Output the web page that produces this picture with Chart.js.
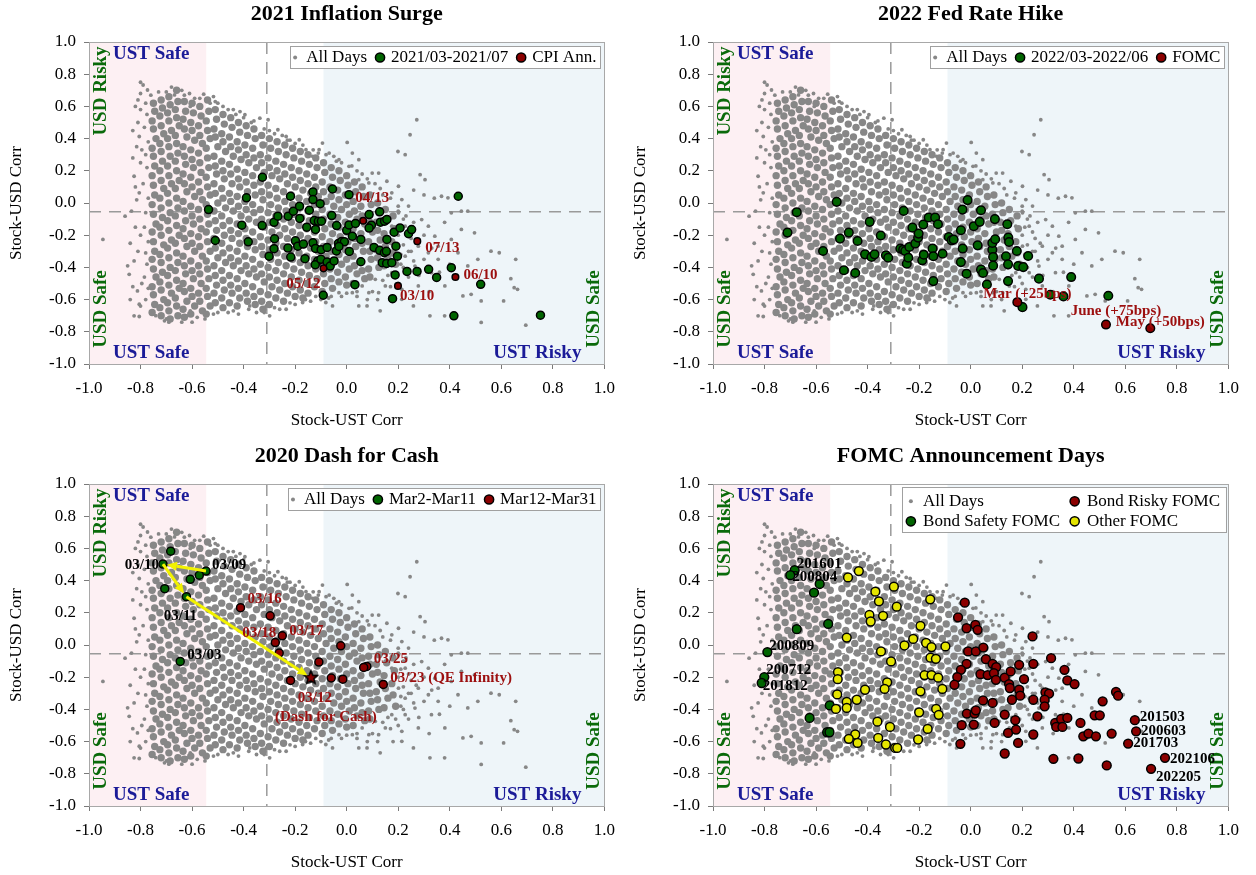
<!DOCTYPE html>
<html><head><meta charset="utf-8">
<script src="https://cdn.jsdelivr.net/npm/chart.js@4.4.1/dist/chart.umd.min.js"></script>
<style>
html,body{margin:0;padding:0;background:#fff;overflow:hidden;}
#wrap{position:relative;width:1256px;height:875px;}
.panel{position:absolute;width:624px;height:436px;}
</style></head><body>
<div id="wrap">
<div class="panel" style="left:0;top:0"><canvas id="c1" width="624" height="436"></canvas></div>
<div class="panel" style="left:624px;top:0"><canvas id="c2" width="624" height="436"></canvas></div>
<div class="panel" style="left:0;top:442px"><canvas id="c3" width="624" height="436"></canvas></div>
<div class="panel" style="left:624px;top:442px"><canvas id="c4" width="624" height="436"></canvas></div>
</div>
<script>
// ---------------- DATA ----------------
const axisTicks = [-1.0,-0.8,-0.6,-0.4,-0.2,0.0,0.2,0.4,0.6,0.8,1.0];
const dashX = -0.31, dashY = -0.055, pinkEdge = -0.545, blueEdge = -0.09;

// All days (stock-UST corr, stock-USD corr), read approximately from the cloud: scattered fringe days
const allDaysFringe = [
[-.8,.75],[-.79,.733],[-.773,.702],[-.805,.413],[-.825,.166],[-.805,.063],[-.86,-.082],[-.946,-.226],[-.85,-.39],[-.844,-.443],[-.812,-.546],[-.805,-.629],[-.825,-.701],[-.805,-.705],[-.741,-.7],[-.707,-.732],[-.668,.671],[-.555,.676],[-.517,.661],[-.51,.63],[-.607,.6],[-.414,.568],[-.395,.548],[-.337,.527],[-.305,.517],[-.267,.455],[-.235,.413],[-.184,.393],[-.094,.372],[.002,.376],[.022,.31],[.047,.269],[.124,.186],[.156,.135],[.201,.104],[.199,.32],[.227,.3],[.246,.424],[.272,.517],[.285,.176],[.304,.145],[.368,.042],[.393,.032],[.406,-.061],[.445,-.051],[.47,-.051],[.445,-.164],[.496,-.185],[.56,-.299],[.592,-.309],[.656,-.35],[.509,-.35],[.47,-.391],[.637,-.47],[.65,-.526],[.663,-.536],[.483,-.567],[.451,-.577],[.522,-.608],[.609,-.608],[.522,-.742],[.695,-.759],[.323,-.701],[.38,-.701],[.259,-.639],[.214,-.598],[.13,-.67],[.047,-.639],[.079,-.639],[-.081,-.618],[-.055,-.639],[-.171,-.618],[-.235,-.66],[-.312,-.639],[-.299,-.701],[-.376,-.639],[-.517,-.69],[-.607,-.67],[-.62,-.701],
[.291,-.103],[.317,-.144],[.342,-.206],[.278,-.268],[.317,-.309],[.355,-.268],[.265,-.392],[.329,-.433],[.381,-.515],[.278,-.515],[.227,-.433],[.406,-.226],[.432,-.309],[.355,-.35],
[.175,.063],[.214,.021],[.24,-.019],[.201,-.061],[.227,-.144],[.175,-.144],[.201,-.268],[.227,-.33],[.175,-.433],[.15,-.515],[.214,-.536],[.124,-.557],[.111,-.474],[.06,-.515],[.086,-.557],[.022,-.557],[-.03,-.557],[-.004,-.515],
[.047,.145],[.086,.125],[.099,.186],[.009,.228],[-.03,.269],[-.068,.31],[-.107,.331],[-.132,.29],[-.158,.331],
[-.78,.62],[-.775,.55],[-.785,.47],[-.77,.38],[-.78,.3],[-.775,.22],[-.79,.12],[-.77,.03],[-.78,-.06],[-.785,-.15],[-.77,-.24],[-.78,-.31],[-.775,-.38],[-.785,-.46],[-.77,-.53],[-.78,-.6],
[-.8,.58],[-.81,.5],[-.795,.33],[-.8,.25],[-.815,.02],[-.8,-.2],[-.81,-.3],[-.795,-.5],[-.8,-.64],[-.69,-.74],[-.6,-.74],[-.55,-.72],[-.46,-.68],[-.42,-.69],[-.35,-.68],[-.26,-.66],[-.2,-.63],[-.14,-.61],[-.1,-.6],
[-.7,.69],[-.63,.67],[-.59,.65],[-.5,.62],[-.46,.58],[-.43,.55],[-.37,.5],[-.32,.46],[-.28,.43],[-.22,.39],[-.2,.37],[-.13,.33],[-.08,.3],[-.04,.26],[.02,.23],[.06,.18],[.11,.12],[.14,.05],[.2,-.02],[.22,-.1],[.25,-.22],[.24,-.3],[.21,-.38],[.19,-.46],[.16,-.45],[.1,-.55],[.04,-.58],[-.02,-.58],[-.07,-.59],
[-.82,.6],[-.83,.45],[-.815,.35],[-.83,.28],[-.82,.1],[-.835,-.05],[-.82,-.15],[-.84,-.25],[-.825,-.36],[-.83,-.52],[-.84,-.6],[-.8,.68],[-.81,.64],
[-.76,.67],[-.73,.69],[-.68,.72],[-.64,.7],[-.61,.68],[-.57,.65],[-.53,.62],[-.48,.6],[-.44,.58],[-.4,.53],[-.36,.51],[-.3,.45],[-.25,.42],[-.23,.39],[-.17,.36],[-.11,.31],[-.05,.29],[-.02,.25],[.04,.2],[.08,.15],[.13,.09],[.17,.03],
[.2,-.05],[.23,-.08],[.26,-.12],[.21,-.15],[.24,-.18],[.2,-.2],[.27,-.25],[.22,-.26],[.25,-.3],[.21,-.32],[.26,-.36],[.22,-.4],[.24,-.46],[.2,-.5],[.17,-.52],[.14,-.48],[.3,-.2],[.33,-.28],[.3,-.35],[.28,-.45],[.32,-.55],[.36,-.43],[.4,-.38],[.38,-.12],[.34,.03],[.3,.05],[.26,.08],[.12,-.6],[.08,-.6],[.18,-.6],
[-.7,-.72],[-.64,-.74],[-.58,-.71],[-.5,-.68],[-.44,-.67],[-.38,-.66],[-.32,-.68],[-.28,-.65],[-.22,-.62],[-.16,-.6],[-.12,-.58],[-.06,-.58],[0,-.56],[.04,-.55]
];
// dense core of the cloud
const allDaysCore = [
[-.75,.62],[-.745,.57],[-.755,.51],[-.75,.46],[-.74,.4],[-.755,.34],[-.75,.29],[-.745,.23],[-.755,.17],[-.75,.11],[-.745,.05],[-.755,-.01],[-.75,-.07],[-.74,-.13],[-.755,-.18],[-.75,-.24],[-.745,-.3],[-.755,-.35],[-.75,-.41],[-.74,-.46],[-.755,-.52],[-.75,-.57],[-.745,-.63],[-.755,-.68],
[-.72,.64],[-.715,.59],[-.725,.54],[-.72,.48],[-.71,.43],[-.725,.37],[-.72,.32],[-.715,.26],[-.725,.2],[-.72,.14],[-.71,.09],[-.725,.03],[-.72,-.03],[-.715,-.09],[-.725,-.15],[-.72,-.2],[-.71,-.26],[-.725,-.32],[-.72,-.37],[-.715,-.43],[-.725,-.49],[-.72,-.54],[-.71,-.6],[-.725,-.65],[-.72,-.7],
[-.69,.66],[-.685,.61],[-.695,.56],[-.69,.51],[-.68,.45],[-.695,.4],[-.69,.35],[-.685,.29],[-.695,.23],[-.69,.17],[-.68,.12],[-.695,.06],[-.69,0],[-.685,-.06],[-.695,-.11],[-.69,-.17],[-.68,-.23],[-.695,-.28],[-.69,-.34],[-.685,-.4],[-.695,-.45],[-.69,-.51],[-.68,-.56],[-.695,-.62],[-.69,-.67],[-.685,-.72],
[-.66,.7],[-.655,.63],[-.665,.58],[-.66,.53],[-.65,.48],[-.665,.42],[-.66,.37],[-.655,.31],[-.665,.26],[-.66,.2],[-.65,.14],[-.665,.09],[-.66,.03],[-.655,-.03],[-.665,-.08],[-.66,-.14],[-.65,-.2],[-.665,-.25],[-.66,-.31],[-.655,-.37],[-.665,-.42],[-.66,-.48],[-.65,-.53],[-.665,-.59],[-.66,-.64],[-.655,-.7],
[-.63,.63],[-.625,.57],[-.635,.52],[-.63,.46],[-.62,.41],[-.635,.35],[-.63,.29],[-.625,.24],[-.635,.18],[-.63,.12],[-.62,.07],[-.635,.01],[-.63,-.05],[-.625,-.11],[-.635,-.16],[-.63,-.22],[-.62,-.27],[-.635,-.33],[-.63,-.39],[-.625,-.44],[-.635,-.5],[-.63,-.55],[-.62,-.61],[-.635,-.66],[-.63,-.71],
[-.6,.62],[-.595,.56],[-.605,.5],[-.6,.45],[-.59,.39],[-.605,.33],[-.6,.27],[-.595,.22],[-.605,.16],[-.6,.1],[-.59,.04],[-.605,-.02],[-.6,-.08],[-.595,-.13],[-.605,-.19],[-.6,-.25],[-.59,-.3],[-.605,-.36],[-.6,-.42],[-.595,-.47],[-.605,-.53],[-.6,-.58],[-.59,-.64],[-.605,-.69],
[-.57,.6],[-.565,.54],[-.575,.48],[-.57,.42],[-.56,.37],[-.575,.31],[-.57,.25],[-.565,.19],[-.575,.13],[-.57,.07],[-.56,.02],[-.575,-.04],[-.57,-.1],[-.565,-.16],[-.575,-.21],[-.57,-.27],[-.56,-.33],[-.575,-.39],[-.57,-.44],[-.565,-.5],[-.575,-.56],[-.57,-.61],[-.56,-.67],
[-.54,.64],[-.535,.57],[-.545,.51],[-.54,.45],[-.53,.4],[-.545,.34],[-.54,.28],[-.535,.22],[-.545,.16],[-.54,.1],[-.53,.05],[-.545,-.01],[-.54,-.07],[-.535,-.13],[-.545,-.18],[-.54,-.24],[-.53,-.3],[-.545,-.36],[-.54,-.41],[-.535,-.47],[-.545,-.53],[-.54,-.58],[-.53,-.64],[-.545,-.69],
[-.51,.58],[-.505,.52],[-.515,.46],[-.51,.41],[-.5,.35],[-.515,.29],[-.51,.23],[-.505,.18],[-.515,.12],[-.51,.06],[-.5,0],[-.515,-.05],[-.51,-.11],[-.505,-.17],[-.515,-.22],[-.51,-.28],[-.5,-.34],[-.515,-.39],[-.51,-.45],[-.505,-.51],[-.515,-.56],[-.51,-.62],
[-.48,.55],[-.475,.49],[-.485,.43],[-.48,.38],[-.47,.32],[-.485,.26],[-.48,.2],[-.475,.15],[-.485,.09],[-.48,.03],[-.47,-.03],[-.485,-.08],[-.48,-.14],[-.475,-.2],[-.485,-.25],[-.48,-.31],[-.47,-.37],[-.485,-.42],[-.48,-.48],[-.475,-.54],[-.485,-.59],[-.48,-.65],
[-.45,.53],[-.445,.47],[-.455,.41],[-.45,.35],[-.44,.29],[-.455,.24],[-.45,.18],[-.445,.12],[-.455,.06],[-.45,.01],[-.44,-.05],[-.455,-.11],[-.45,-.17],[-.445,-.22],[-.455,-.28],[-.45,-.34],[-.44,-.39],[-.455,-.45],[-.45,-.51],[-.445,-.56],[-.455,-.62],
[-.42,.5],[-.415,.44],[-.425,.38],[-.42,.33],[-.41,.27],[-.425,.21],[-.42,.15],[-.415,.1],[-.425,.04],[-.42,-.02],[-.41,-.08],[-.425,-.13],[-.42,-.19],[-.415,-.25],[-.425,-.3],[-.42,-.36],[-.41,-.42],[-.425,-.47],[-.42,-.53],[-.415,-.59],[-.425,-.64],
[-.39,.48],[-.385,.42],[-.395,.36],[-.39,.3],[-.38,.25],[-.395,.19],[-.39,.13],[-.385,.07],[-.395,.01],[-.39,-.04],[-.38,-.1],[-.395,-.16],[-.39,-.22],[-.385,-.27],[-.395,-.33],[-.39,-.39],[-.38,-.44],[-.395,-.5],[-.39,-.56],[-.385,-.61],
[-.36,.46],[-.355,.4],[-.365,.34],[-.36,.28],[-.35,.22],[-.365,.17],[-.36,.11],[-.355,.05],[-.365,-.01],[-.36,-.06],[-.35,-.12],[-.365,-.18],[-.36,-.24],[-.355,-.29],[-.365,-.35],[-.36,-.41],[-.35,-.46],[-.365,-.52],[-.36,-.58],[-.355,-.63],
[-.33,.42],[-.325,.36],[-.335,.3],[-.33,.25],[-.32,.19],[-.335,.13],[-.33,.07],[-.325,.02],[-.335,-.04],[-.33,-.1],[-.32,-.15],[-.335,-.21],[-.33,-.27],[-.325,-.32],[-.335,-.38],[-.33,-.44],[-.32,-.49],[-.335,-.55],[-.33,-.61],[-.325,-.66],
[-.3,.4],[-.295,.34],[-.305,.28],[-.3,.22],[-.29,.17],[-.305,.11],[-.3,.05],[-.295,-.01],[-.305,-.06],[-.3,-.12],[-.29,-.18],[-.305,-.23],[-.3,-.29],[-.295,-.35],[-.305,-.4],[-.3,-.46],[-.29,-.52],[-.305,-.57],[-.3,-.63],
[-.27,.38],[-.265,.32],[-.275,.26],[-.27,.2],[-.26,.15],[-.275,.09],[-.27,.03],[-.265,-.03],[-.275,-.08],[-.27,-.14],[-.26,-.2],[-.275,-.25],[-.27,-.31],[-.265,-.37],[-.275,-.42],[-.27,-.48],[-.26,-.54],[-.275,-.59],
[-.24,.36],[-.235,.3],[-.245,.24],[-.24,.18],[-.23,.12],[-.245,.07],[-.24,.01],[-.235,-.05],[-.245,-.1],[-.24,-.16],[-.23,-.22],[-.245,-.27],[-.24,-.33],[-.235,-.39],[-.245,-.44],[-.24,-.5],[-.23,-.56],[-.245,-.61],
[-.21,.34],[-.205,.28],[-.215,.22],[-.21,.16],[-.2,.1],[-.215,.05],[-.21,-.01],[-.205,-.07],[-.215,-.12],[-.21,-.18],[-.2,-.24],[-.215,-.29],[-.21,-.35],[-.205,-.41],[-.215,-.46],[-.21,-.52],[-.2,-.58],
[-.18,.32],[-.175,.26],[-.185,.2],[-.18,.14],[-.17,.08],[-.185,.03],[-.18,-.03],[-.175,-.09],[-.185,-.14],[-.18,-.2],[-.17,-.26],[-.185,-.31],[-.18,-.37],[-.175,-.43],[-.185,-.48],[-.18,-.54],[-.17,-.59],
[-.15,.3],[-.145,.24],[-.155,.18],[-.15,.12],[-.14,.06],[-.155,.01],[-.15,-.05],[-.145,-.11],[-.155,-.16],[-.15,-.22],[-.14,-.28],[-.155,-.33],[-.15,-.39],[-.145,-.45],[-.155,-.5],[-.15,-.56],
[-.12,.28],[-.115,.22],[-.125,.16],[-.12,.1],[-.11,.04],[-.125,-.01],[-.12,-.07],[-.115,-.13],[-.125,-.18],[-.12,-.24],[-.11,-.3],[-.125,-.35],[-.12,-.41],[-.115,-.47],[-.125,-.52],
[-.09,.25],[-.085,.19],[-.095,.13],[-.09,.07],[-.08,.01],[-.095,-.04],[-.09,-.1],[-.085,-.16],[-.095,-.21],[-.09,-.27],[-.08,-.33],[-.095,-.38],[-.09,-.44],[-.085,-.5],[-.095,-.55],
[-.06,.22],[-.055,.16],[-.065,.1],[-.06,.04],[-.05,-.02],[-.065,-.07],[-.06,-.13],[-.055,-.19],[-.065,-.24],[-.06,-.3],[-.05,-.36],[-.065,-.41],[-.06,-.47],[-.055,-.53],
[-.03,.2],[-.025,.14],[-.035,.08],[-.03,.02],[-.02,-.04],[-.035,-.09],[-.03,-.15],[-.025,-.21],[-.035,-.26],[-.03,-.32],[-.02,-.38],[-.035,-.43],[-.03,-.49],
[0,.17],[.005,.11],[-.005,.05],[0,-.01],[.01,-.07],[-.005,-.12],[0,-.18],[.005,-.24],[-.005,-.29],[0,-.35],[.01,-.41],[-.005,-.46],[0,-.51],
[.03,.13],[.035,.07],[.025,.01],[.03,-.05],[.04,-.1],[.025,-.16],[.03,-.22],[.035,-.27],[.025,-.33],[.03,-.39],[.04,-.44],[.025,-.5],
[.06,.1],[.065,.04],[.055,-.02],[.06,-.08],[.07,-.13],[.055,-.19],[.06,-.25],[.065,-.3],[.055,-.36],[.06,-.42],[.07,-.47],
[.09,.05],[.095,-.01],[.085,-.07],[.09,-.12],[.1,-.18],[.085,-.24],[.09,-.3],[.095,-.35],[.085,-.41],[.09,-.46],
[.12,0],[.125,-.06],[.115,-.12],[.12,-.17],[.13,-.23],[.115,-.29],[.12,-.34],[.125,-.4],
[.15,-.04],[.155,-.11],[.145,-.19],[.15,-.27],[.16,-.33],[.145,-.39],
[.18,-.08],[.185,-.16],[.175,-.24],[.18,-.31],[.19,-.38]
];

// Panel 1: 2021 Inflation Surge
const inflation2021 = [[-.327,.16],[-.389,.032],[-.536,-.041],[-.51,-.233],[-.407,-.138],[-.382,-.241],[-.328,-.14],[-.301,-.33],[-.282,-.12],[-.267,-.082],[-.28,-.222],[-.282,-.284],[-.227,-.082],[-.218,.042],[-.207,-.051],[-.183,-.02],[-.182,-.096],[-.228,-.28],[-.217,-.336],[-.199,-.235],[-.19,-.268],[-.168,-.255],[-.162,-.346],[-.155,-.15],[-.145,-.045],[-.131,.069],[-.131,.021],[-.103,-.004],[-.126,-.109],[-.11,-.113],[-.098,-.113],[-.121,-.164],[-.131,-.247],[-.121,-.282],[-.099,-.29],[-.076,-.276],[-.112,-.36],[-.122,-.383],[-.1,-.35],[-.091,-.573],[-.076,-.367],[-.064,-.392],[-.049,-.36],[-.058,-.078],[-.055,.087],[-.039,-.14],[-.032,-.251],[-.019,-.239],[-.009,-.241],[-.04,-.298],[-.03,-.27],[0,-.17],[.009,.052],[.009,-.136],[.034,-.127],[.022,-.206],[.01,-.301],[.055,-.226],[.055,-.365],[.032,-.507],[.087,-.072],[.096,-.138],[.087,-.156],[.106,-.276],[.128,-.055],[.131,-.119],[.147,-.113],[.156,-.102],[.128,-.294],[.146,-.309],[.154,-.3],[.138,-.371],[.155,-.375],[.175,-.371],[.156,-.226],[.184,-.181],[.207,-.155],[.24,-.191],[.252,-.165],[.191,-.268],[.197,-.33],[.188,-.447],[.178,-.594],[.234,-.425],[.273,-.425],[.318,-.412],[.349,-.462],[.406,-.402],[.433,.042],[.52,-.505],[.416,-.701],[.752,-.697]];
const cpiAnn = [[.199,-.515],[.064,-.11],[-.09,-.406],[.422,-.46],[.274,-.237]];
const cpiLabels = ['03/10','04/13','05/12','06/10','07/13'];

// Panel 2: 2022 Fed Rate Hike
const hike2022 = [[-.675,-.057],[-.711,-.184],[-.52,.007],[-.573,-.298],[-.507,-.221],[-.473,-.184],[-.492,-.418],[-.448,-.435],[-.439,-.236],[-.41,-.319],[-.392,-.117],[-.385,-.335],[-.373,-.319],[-.349,-.202],[-.329,-.325],[-.32,-.34],[-.273,-.283],[-.262,-.29],[-.26,-.049],[-.254,-.298],[-.248,-.377],[-.242,-.34],[-.238,-.273],[-.226,-.153],[-.215,-.252],[-.204,-.215],[-.202,-.19],[-.188,-.356],[-.182,-.321],[-.184,-.134],[-.163,-.09],[-.138,-.09],[-.148,-.283],[-.145,-.331],[-.145,-.485],[-.127,-.132],[-.109,-.315],[-.085,-.211],[-.074,-.232],[-.066,-.227],[-.038,-.169],[-.032,-.041],[-.031,-.283],[-.038,-.367],[-.012,.018],[-.016,-.439],[.012,-.144],[.027,-.263],[.035,-.117],[.04,-.045],[.04,-.414],[.048,-.435],[.063,-.506],[.084,-.29],[.087,-.335],[.087,-.389],[.084,-.248],[.094,-.1],[.095,-.225],[.142,-.132],[.146,-.215],[.149,-.242],[.137,-.331],[.145,-.381],[.145,-.485],[.179,-.298],[.184,-.391],[.204,-.398],[.223,-.329],[.201,-.647],[.265,-.47],[.309,-.57],[.36,-.58],[.39,-.46],[.534,-.576]];
const fomc2022 = [[.181,-.616],[.697,-.778],[.525,-.755]];
const fomc2022Labels = ['Mar (+25bps)','May (+50bps)','June (+75bps)'];

// Panel 3: 2020 Dash for Cash
const mar2to11 = [[-.713,.503],[-.546,.459],[-.622,.3],[-.646,-.102],[-.683,.583],[-.572,.434],[-.607,.408],[-.706,.35]];
const mar2to11Labels = ['03/10','03/09','03/11','03/03','','','',''];
const mar12to31 = [[-.412,.232],[-.25,.057],[-.277,.015],[.078,-.133],[.142,-.245],[-.297,.181],[-.262,-.05],[-.218,-.22],[-.108,-.106],[-.06,-.205],[-.015,-.212],[-.023,-.005],[.066,-.139]];
const mar12to31Labels = ['03/16','03/17','03/18','03/25','03/23 (QE Infinity)','','','','','','','',''];
const dashForCash = [[-.139,-.203]];
const dashForCashLabels = ['03/12','(Dash for Cash)'];
const dashPath = [[-.546,.459],[-.713,.503],[-.622,.3],[-.139,-.203]];

// Panel 4: FOMC Announcement Days
const bondSafetyFomc = [[-.683,.465],[-.7,.434],[-.789,-.044],[-.801,-.199],[-.811,-.236],[-.586,.379],[-.608,.325],[-.675,.098],[-.553,.131],[-.547,-.375],[-.625,-.453],[-.557,-.542],[-.548,-.542]];
const bondSafetyLabels = ['201601','200804','200809','200712','201812','','','','','','','',''];
const bondRiskyFomc = [[.637,-.467],[.642,-.536],[.611,-.612],[.754,-.701],[.7,-.769],[-.023,.263],[-.049,.172],[-.016,.104],[.018,.125],[.027,.094],[-.01,-.04],[.02,-.04],[.049,-.016],[-.016,-.117],[.059,-.088],[-.038,-.154],[-.052,-.199],[-.063,-.247],[.038,-.181],[.066,-.187],[.085,-.117],[.099,-.137],[.09,-.175],[.098,-.216],[.132,-.203],[.149,-.243],[.152,-.267],[.155,-.164],[.188,-.123],[.207,-.212],[.188,-.278],[.192,-.315],[.243,-.117],[.24,.053],[.312,-.082],[.29,-.294],[.304,-.302],[.364,-.154],[.375,-.22],[.403,-.243],[.243,-.34],[.287,-.34],[.287,-.381],[.259,-.443],[.048,-.344],[.085,-.36],[.16,-.34],[-.015,-.426],[.015,-.426],[.02,-.406],[-.035,-.498],[.012,-.494],[.093,-.484],[.132,-.432],[.173,-.467],[.145,-.546],[.176,-.525],[.184,-.608],[-.04,-.614],[.132,-.674],[.243,-.556],[.328,-.484],[.332,-.509],[.351,-.459],[.356,-.509],[.375,-.453],[.426,-.484],[.437,-.567],[.457,-.55],[.486,-.567],[.481,-.437],[.501,-.437],[.512,-.35],[.547,-.55],[.564,-.292],[.572,-.315],[.321,-.707],[.418,-.705],[.528,-.748]];
const bondRiskyLabels = ['201503','200603','201703','202106','202205'];
const otherFomc = [[-.434,.459],[-.476,.42],[-.37,.331],[-.298,.362],[-.356,.271],[-.287,.238],[-.157,.284],[-.393,.187],[-.388,.146],[-.34,.181],[-.195,.119],[-.481,.046],[-.223,.038],[-.257,-.003],[-.173,.013],[-.152,-.013],[-.098,-.009],[-.348,-.04],[-.309,-.102],[-.156,-.079],[-.135,-.086],[-.515,-.168],[-.516,-.212],[-.179,-.187],[-.152,-.187],[-.126,-.203],[-.324,-.232],[-.334,-.273],[-.41,-.278],[-.195,-.288],[-.11,-.273],[-.518,-.307],[-.481,-.354],[-.481,-.391],[-.442,-.34],[-.523,-.397],[-.2,-.418],[-.134,-.397],[-.124,-.434],[-.362,-.476],[-.313,-.509],[-.167,-.521],[-.448,-.556],[-.473,-.583],[-.439,-.608],[-.359,-.577],[-.329,-.618],[-.293,-.639],[-.285,-.639],[-.204,-.587]];

// ---------------- STYLE / LAYOUT ----------------
const FONT = '"Liberation Serif", "Times New Roman", serif';
const NAVY = '#1b1b98', DGREEN = '#0a6a0a', LABELRED = '#9c0f0f';
const GREEN = '#006400', RED = '#8b0000', YELLOW = '#e4e400', GRAY = '#878787';

function toXY(arr){ return arr.map(p => ({x:p[0], y:p[1]})); }

function makeStar(r){
  const c = document.createElement('canvas'); c.width = c.height = 2*r+4;
  const g = c.getContext('2d'); g.beginPath();
  for (let i=0;i<10;i++){ const a=-Math.PI/2+i*Math.PI/5; const rr = i%2 ? r*0.45 : r;
    g.lineTo(c.width/2+rr*Math.cos(a), c.height/2+rr*Math.sin(a)); }
  g.closePath(); g.fillStyle = RED; g.fill(); g.lineWidth = 1.6; g.strokeStyle = '#000'; g.stroke();
  return c;
}

function grayDatasets(){
  return [
    {label:'All Days', data: toXY(allDaysCore), backgroundColor: GRAY, borderWidth:0, pointRadius:3.7, pointHoverRadius:3.7, order: 9},
    {label:'All Days', data: toXY(allDaysFringe), backgroundColor: GRAY, borderWidth:0, pointRadius:1.9, pointHoverRadius:1.9, order: 10}
  ];
}
function markDataset(label, arr, fill, r, order){
  return {label, data: toXY(arr), backgroundColor: fill, borderColor:'#000', borderWidth:1.5, pointRadius:r, pointHoverRadius:r, order};
}

function drawMarker(ctx, x, y, kind){
  ctx.beginPath();
  if (kind.gray){ ctx.arc(x,y,2,0,Math.PI*2); ctx.fillStyle = GRAY; ctx.fill(); return; }
  ctx.arc(x,y,4.6,0,Math.PI*2); ctx.fillStyle = kind.fill; ctx.fill();
  ctx.lineWidth = 1.5; ctx.strokeStyle = '#000'; ctx.stroke();
}

function makeDecor(cfg){
  return {
    id: 'decor',
    beforeDatasetsDraw(chart){
      const {ctx, chartArea:a, scales:{x,y}} = chart;
      ctx.save();
      const xp = x.getPixelForValue(pinkEdge), xb = x.getPixelForValue(blueEdge);
      ctx.fillStyle = '#fdf0f3'; ctx.fillRect(a.left, a.top, xp-a.left, a.bottom-a.top);
      ctx.fillStyle = '#eef5f9'; ctx.fillRect(xb, a.top, a.right-xb, a.bottom-a.top);
      ctx.strokeStyle = '#9a9a9a'; ctx.lineWidth = 1.5; ctx.setLineDash([12,8]);
      const xd = x.getPixelForValue(dashX), yd = y.getPixelForValue(dashY);
      ctx.beginPath(); ctx.moveTo(xd, a.top); ctx.lineTo(xd, a.bottom); ctx.stroke();
      ctx.beginPath(); ctx.moveTo(a.left, yd); ctx.lineTo(a.right, yd); ctx.stroke();
      ctx.restore();
    },
    afterDatasetsDraw(chart){
      const {ctx, chartArea:a, scales:{x,y}} = chart;
      ctx.save();
      if (cfg.arrows){
        ctx.strokeStyle = '#f2f200'; ctx.fillStyle = '#f2f200'; ctx.lineWidth = 3;
        for (let i=0;i<cfg.arrows.length-1;i++){
          const x0 = x.getPixelForValue(cfg.arrows[i][0]), y0 = y.getPixelForValue(cfg.arrows[i][1]);
          const x1 = x.getPixelForValue(cfg.arrows[i+1][0]), y1 = y.getPixelForValue(cfg.arrows[i+1][1]);
          const ang = Math.atan2(y1-y0, x1-x0);
          const tx = x1 - 4*Math.cos(ang), ty = y1 - 4*Math.sin(ang);
          const bx = tx - 10*Math.cos(ang), by = ty - 10*Math.sin(ang);
          ctx.beginPath(); ctx.moveTo(x0,y0); ctx.lineTo(bx,by); ctx.stroke();
          ctx.beginPath(); ctx.moveTo(tx,ty);
          ctx.lineTo(bx + 4.5*Math.sin(ang), by - 4.5*Math.cos(ang));
          ctx.lineTo(bx - 4.5*Math.sin(ang), by + 4.5*Math.cos(ang));
          ctx.closePath(); ctx.fill();
        }
      }
      ctx.strokeStyle = '#a8a8a8'; ctx.lineWidth = 1;
      ctx.strokeRect(Math.round(a.left)+0.5, Math.round(a.top)+0.5, Math.round(a.right-a.left), Math.round(a.bottom-a.top));
      ctx.font = 'bold 19px ' + FONT; ctx.fillStyle = NAVY; ctx.textBaseline = 'alphabetic';
      ctx.textAlign = 'left';
      ctx.fillText('UST Safe', a.left+24, a.top+16.5);
      ctx.fillText('UST Safe', a.left+24, a.bottom-6);
      ctx.textAlign = 'right';
      ctx.fillText('UST Risky', a.right-23, a.bottom-6);
      ctx.fillStyle = DGREEN; ctx.textAlign = 'center'; ctx.textBaseline = 'middle';
      const vtext = (t, cx, cy) => { ctx.save(); ctx.translate(cx, cy); ctx.rotate(-Math.PI/2); ctx.fillText(t, 0, 0); ctx.restore(); };
      vtext('USD Risky', a.left+12, a.top+49);
      vtext('USD Safe', a.left+12, a.bottom-55);
      vtext('USD Safe', a.right-10, a.bottom-55);
      for (const L of cfg.labels){
        ctx.font = 'bold 15px ' + FONT; ctx.fillStyle = L.color; ctx.textBaseline = 'middle';
        L.texts.forEach((t,i) => {
          if (!t) return;
          const pt = L.points[Math.min(i, L.points.length-1)];
          const p = L.pos[i];
          ctx.textAlign = p[2];
          ctx.fillText(t, x.getPixelForValue(pt[0]) + p[0], y.getPixelForValue(pt[1]) + p[1]);
        });
      }
      ctx.font = '17px ' + FONT; ctx.textBaseline = 'middle'; ctx.textAlign = 'left';
      const lg = cfg.legend;
      if (lg.rows === 1){
        const widths = lg.items.map(it => ctx.measureText(it.text).width);
        const w = 5 + widths.reduce((s,v)=>s+v+11,0) + 13*(lg.items.length-1) + 4;
        const h = 22, right = a.right - 4, top = a.top + 4, left = right - w;
        ctx.fillStyle = '#fff'; ctx.fillRect(left, top, w, h);
        ctx.strokeStyle = '#a0a0a0'; ctx.lineWidth = 1; ctx.strokeRect(Math.round(left)+0.5, Math.round(top)+0.5, Math.round(w), h);
        let cx = left + 5; const cy = top + h/2 + 0.5;
        lg.items.forEach((it,i) => {
          drawMarker(ctx, cx, cy, it);
          ctx.fillStyle = '#000'; ctx.fillText(it.text, cx + 11, cy);
          cx += 11 + widths[i] + 13;
        });
      } else {
        const w = 324, h = 45, right = a.right - 2.5, top = a.top + 3.3, left = right - w;
        ctx.fillStyle = '#fff'; ctx.fillRect(left, top, w, h);
        ctx.strokeStyle = '#a0a0a0'; ctx.lineWidth = 1; ctx.strokeRect(Math.round(left)+0.5, Math.round(top)+0.5, w, h);
        lg.items.forEach((it,i) => {
          const col = i % 2, row = Math.floor(i/2);
          const cx = left + 9 + col*163.8, cy = top + 14 + row*20;
          drawMarker(ctx, cx, cy, it);
          ctx.fillStyle = '#000'; ctx.fillText(it.text, cx + 12.2, cy);
        });
      }
      ctx.restore();
    }
  };
}

function baseOptions(title){
  const tickFont = {family: FONT, size: 17};
  const axis = (isX) => ({
    type: 'linear', min: -1, max: 1,
    afterBuildTicks: s => { s.ticks = axisTicks.map(v => ({value: v})); },
    afterFit: s => { if (isX) s.height = 436 - 364; else s.width = 89; },
    ticks: {font: tickFont, color: '#000', padding: isX ? 9 : 8, autoSkip: false, maxRotation: 0,
            callback: v => Number(v).toFixed(1)},
    grid: {display: true, drawOnChartArea: false, drawTicks: true, tickLength: 5, color: '#7a7a7a'},
    border: {display: true, color: '#a8a8a8'},
    title: {display: true, text: isX ? 'Stock-UST Corr' : 'Stock-USD Corr', color: '#000',
            font: {family: FONT, size: 17, lineHeight: 1.2},
            padding: isX ? {top: 0, bottom: 5} : {top: 6, bottom: 0}}
  });
  return {
    responsive: false, animation: false, devicePixelRatio: 1,
    events: [],
    layout: {padding: {left: 0, right: 15, top: 0, bottom: 0}},
    scales: {x: axis(true), y: axis(false)},
    plugins: {
      legend: {display: false}, tooltip: {enabled: false},
      title: {display: true, text: title, fullSize: false, color: '#000',
              font: {family: FONT, size: 22, weight: 'bold', lineHeight: 1.2},
              padding: {top: 1, bottom: 14.6}}
    }
  };
}

new Chart(document.getElementById('c1'), {
  type: 'scatter',
  data: {datasets: [
    markDataset('CPI Ann.', cpiAnn, RED, 3.3, 0),
    markDataset('2021/03-2021/07', inflation2021, GREEN, 4, 1),
    ...grayDatasets()
  ]},
  options: baseOptions('2021 Inflation Surge'),
  plugins: [makeDecor({
    legend: {rows: 1, items: [{text:'All Days', gray:true},{text:'2021/03-2021/07', fill:GREEN},{text:'CPI Ann.', fill:RED}]},
    labels: [{points: cpiAnn, texts: cpiLabels, color: LABELRED,
              pos: [[2,10,'left'],[-8,-23,'left'],[-3,16,'right'],[8,-2,'left'],[8,7,'left']]}]
  })]
});

new Chart(document.getElementById('c2'), {
  type: 'scatter',
  data: {datasets: [
    markDataset('FOMC', fomc2022, RED, 4.3, 0),
    markDataset('2022/03-2022/06', hike2022, GREEN, 4.3, 1),
    ...grayDatasets()
  ]},
  options: baseOptions('2022 Fed Rate Hike'),
  plugins: [makeDecor({
    legend: {rows: 1, items: [{text:'All Days', gray:true},{text:'2022/03-2022/06', fill:GREEN},{text:'FOMC', fill:RED}]},
    labels: [{points: fomc2022, texts: fomc2022Labels, color: LABELRED,
              pos: [[10,-8,'center'],[10,-6,'center'],[10,-13,'center']]}]
  })]
});

new Chart(document.getElementById('c3'), {
  type: 'scatter',
  data: {datasets: [
    {label:'03/12', data: toXY(dashForCash), pointStyle: makeStar(7), pointRadius: 7, order: 0},
    markDataset('Mar12-Mar31', mar12to31, RED, 4, 1),
    markDataset('Mar2-Mar11', mar2to11, GREEN, 4, 2),
    ...grayDatasets()
  ]},
  options: baseOptions('2020 Dash for Cash'),
  plugins: [makeDecor({
    arrows: dashPath,
    legend: {rows: 1, items: [{text:'All Days', gray:true},{text:'Mar2-Mar11', fill:GREEN},{text:'Mar12-Mar31', fill:RED}]},
    labels: [
      {points: mar2to11, texts: mar2to11Labels, color: '#000',
       pos: [[-4,1,'right'],[6,-6,'left'],[-6,19,'center'],[7,-6,'left']]},
      {points: mar12to31, texts: mar12to31Labels, color: LABELRED,
       pos: [[7,-9,'left'],[7,-5,'left'],[1,-9,'right'],[7,-7,'left'],[7,-6,'left']]},
      {points: dashForCash, texts: dashForCashLabels, color: LABELRED,
       pos: [[4,20,'center'],[15,39,'center']]}
    ]
  })]
});

new Chart(document.getElementById('c4'), {
  type: 'scatter',
  data: {datasets: [
    markDataset('Bond Risky FOMC', bondRiskyFomc, RED, 4.4, 0),
    markDataset('Other FOMC', otherFomc, YELLOW, 4.4, 1),
    markDataset('Bond Safety FOMC', bondSafetyFomc, GREEN, 4.4, 2),
    ...grayDatasets()
  ]},
  options: baseOptions('FOMC Announcement Days'),
  plugins: [makeDecor({
    legend: {rows: 2, items: [{text:'All Days', gray:true},{text:'Bond Risky FOMC', fill:RED},{text:'Bond Safety FOMC', fill:GREEN},{text:'Other FOMC', fill:YELLOW}]},
    labels: [
      {points: bondSafetyFomc, texts: bondSafetyLabels, color: '#000',
       pos: [[2,-6,'left'],[2,2,'left'],[2,-6,'left'],[2,-7,'left'],[1,3,'left']]},
      {points: bondRiskyFomc, texts: bondRiskyLabels, color: '#000',
       pos: [[5,-3,'left'],[5,0,'left'],[5,0,'left'],[5,1,'left'],[5,8,'left']]}
    ]
  })]
});
</script>
</body></html>
